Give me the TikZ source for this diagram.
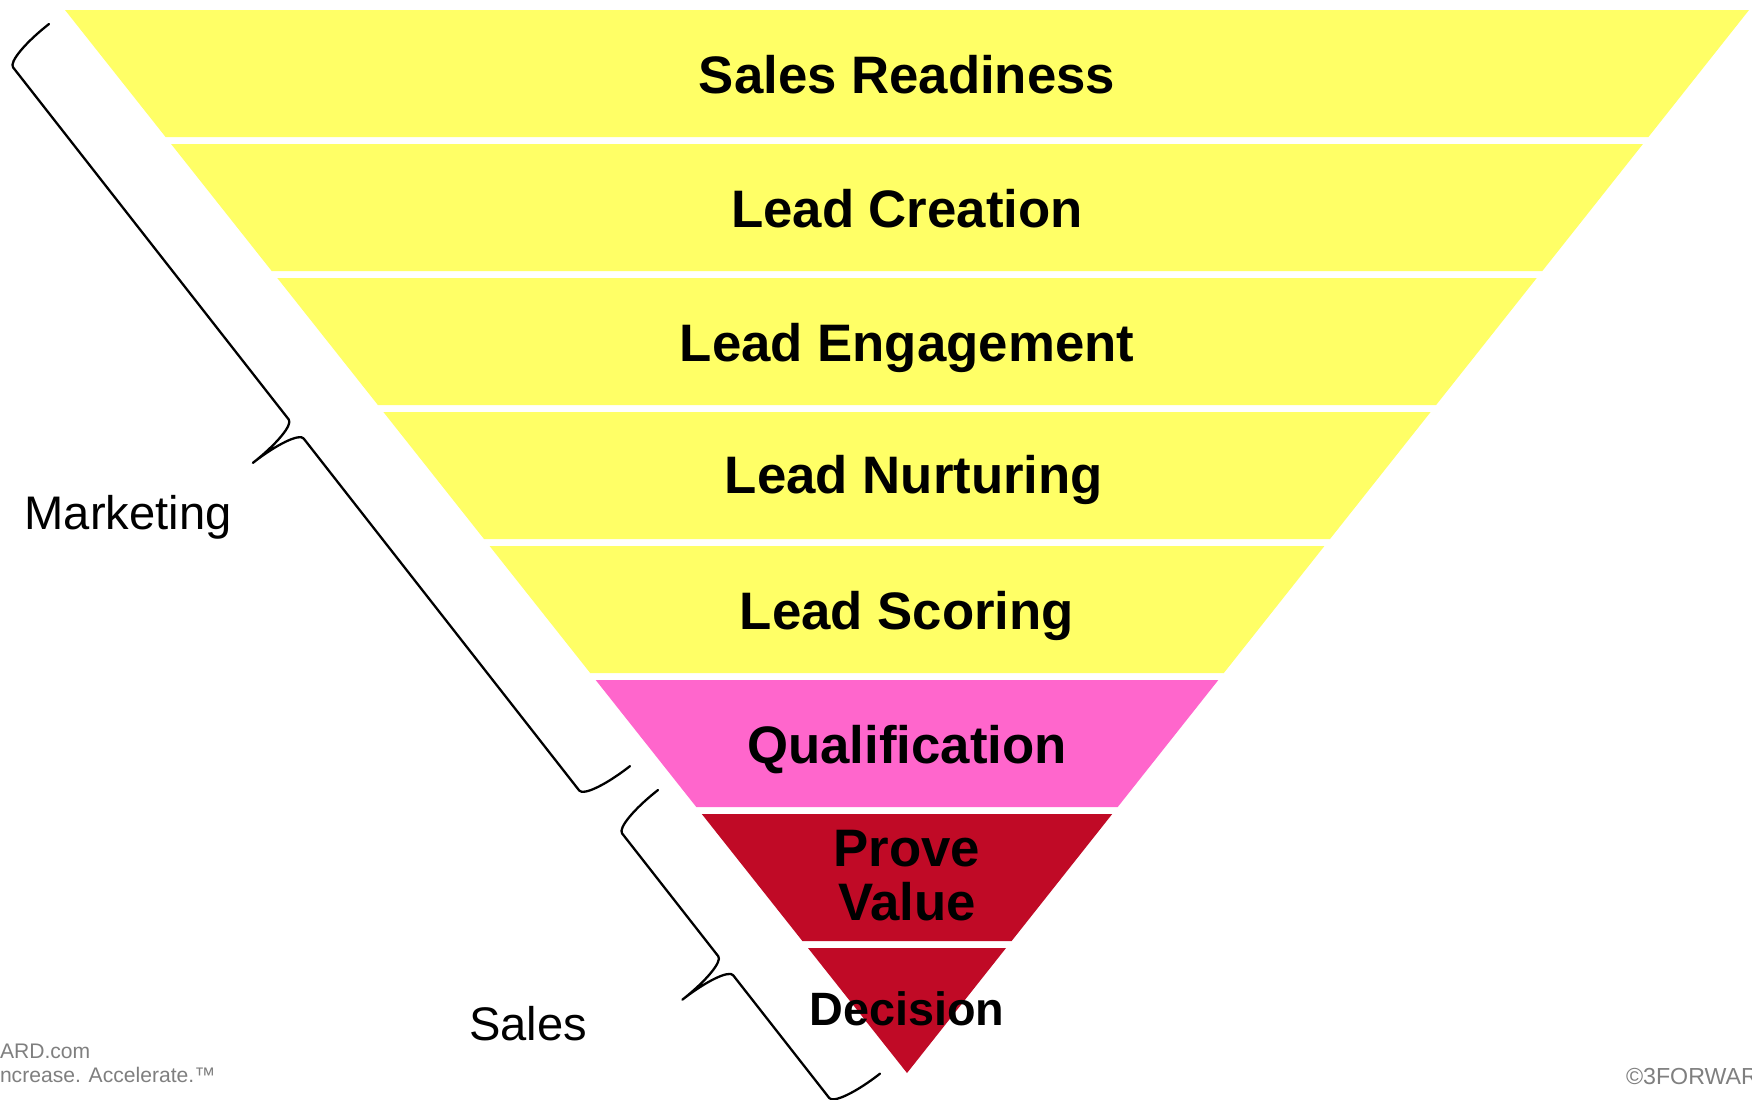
\documentclass[tikz,border=0pt]{standalone}
\usepackage{fontspec}
\setmainfont{Liberation Sans}

\definecolor{funnelYellow}{HTML}{FFFF66}
\definecolor{funnelPink}{HTML}{FF66CC}
\definecolor{funnelRed}{HTML}{C00A26}
\definecolor{footerGray}{HTML}{7F7F7F}

\tikzset{
    BAND/.style={draw=none},
    YELLOW_BAND/.style={BAND, fill=funnelYellow},
    PINK_BAND/.style={BAND, fill=funnelPink},
    RED_BAND/.style={BAND, fill=funnelRed},
    STAGE/.style={inner sep=0mm, outer sep=0mm, align=center,
        font={\fontsize{15pt}{15.4pt}\selectfont\bfseries}},
    SMALL_STAGE/.style={STAGE, font={\fontsize{13.3pt}{14pt}\selectfont\bfseries}},
    SIDE_LABEL/.style={inner sep=0mm, outer sep=0mm,
        font={\fontsize{13.4pt}{16pt}\selectfont}},
    FOOTER/.style={inner sep=0mm, outer sep=0mm, text=footerGray,
        font={\fontsize{6pt}{7pt}\selectfont}},
    BRACE_EDGE/.style={draw=black, line width=0.65pt, line join=round, line cap=round}
}

\begin{document}
\begin{tikzpicture}[x=0.01cm, y=-0.01cm]
    \useasboundingbox (0,0) rectangle (1752,1099);
    \clip (0,0) rectangle (1752,1099);

    % funnel bands, top to bottom
    \fill[YELLOW_BAND] (65,10) -- (1749,10) -- (1648.4,137) -- (165.6,137) -- cycle;
    \fill[YELLOW_BAND] (171.1,144) -- (1642.9,144) -- (1542.3,271) -- (271.7,271) -- cycle;
    \fill[YELLOW_BAND] (277.3,278) -- (1536.7,278) -- (1436.1,405) -- (377.9,405) -- cycle;
    \fill[YELLOW_BAND] (383.4,412) -- (1430.6,412) -- (1330,539) -- (484,539) -- cycle;
    \fill[YELLOW_BAND] (489.6,546) -- (1324.4,546) -- (1223.8,673) -- (590.2,673) -- cycle;
    \fill[PINK_BAND] (595.7,680) -- (1218.3,680) -- (1117.7,807) -- (696.3,807) -- cycle;
    \fill[RED_BAND] (701.8,814) -- (1112.2,814) -- (1011.6,941) -- (802.4,941) -- cycle;
    \fill[RED_BAND] (808,948) -- (1006,948) -- (907,1073) -- cycle;

    % stage names
    \node [STAGE, anchor=base] (1) at (907, 93) {Sales Readiness};
    \node [STAGE, anchor=base] (2) at (907, 227) {Lead Creation};
    \node [STAGE, anchor=base] (3) at (907, 361) {Lead Engagement};
    \node [STAGE, anchor=base] (4) at (914, 493) {Lead Nurturing};
    \node [STAGE, anchor=base] (5) at (907, 629) {Lead Scoring};
    \node [STAGE, anchor=base] (6) at (907, 763) {Qualification};
    \node [STAGE] (7) at (907, 876) {Prove\\Value};
    \node [SMALL_STAGE, anchor=base] (8) at (907, 1025) {Decision};

    % braces along the left edge
    \begin{scope}[shift={(49,24)}, x={(0.00616cm,-0.00787cm)}, y={(-0.00787cm,-0.00616cm)}]
        \draw[BRACE_EDGE] (0,0) .. controls (0,30.4) and (5.4,55) .. (12,55)
            -- (459,55) .. controls (465.6,55) and (471,79.6) .. (471,110)
            .. controls (471,79.6) and (476.4,55) .. (483,55)
            -- (930,55) .. controls (936.6,55) and (942,30.4) .. (942,0);
    \end{scope}
    \begin{scope}[shift={(658,790)}, x={(0.00616cm,-0.00787cm)}, y={(-0.00787cm,-0.00616cm)}]
        \draw[BRACE_EDGE] (0,0) .. controls (0,30.4) and (5.4,55) .. (12,55)
            -- (168,55) .. controls (174.6,55) and (180,79.6) .. (180,110)
            .. controls (180,79.6) and (185.4,55) .. (192,55)
            -- (348,55) .. controls (354.6,55) and (360,30.4) .. (360,0);
    \end{scope}

    \node [SIDE_LABEL, anchor=base] (9) at (128, 529) {Marketing};
    \node [SIDE_LABEL, anchor=base] (10) at (528, 1040) {Sales};

    % footer
    \node [FOOTER, anchor=base west] (11) at (0, 1058) {ARD.com};
    \node [FOOTER, anchor=base west] (12) at (0, 1082) {ncrease. Accelerate.™};
    \node [FOOTER, anchor=base west, font={\fontsize{6.6pt}{8pt}\selectfont}] (13) at (1626, 1084) {©3FORWAR};
\end{tikzpicture}
\end{document}
